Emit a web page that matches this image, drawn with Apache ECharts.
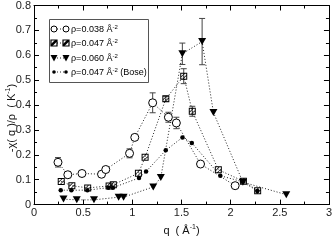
<!DOCTYPE html>
<html><head><meta charset="utf-8">
<script src="https://cdn.jsdelivr.net/npm/echarts@6/dist/echarts.min.js"></script>
<style>html,body{margin:0;padding:0;background:#fff}#c{width:335px;height:241px}</style>
</head><body><div id="c"></div>
<script>
// rho = 0.038 (open circles)
const circQ = [0.244, 0.344, 0.488, 0.687, 0.73, 0.972, 1.025, 1.207, 1.367, 1.448, 1.694, 2.046];
const circV = [0.170, 0.120, 0.125, 0.122, 0.141, 0.206, 0.270, 0.409, 0.351, 0.328, 0.163, 0.076];
const circE = [0.019, 0.012, 0, 0, 0, 0.018, 0, 0.040, 0.020, 0.023, 0, 0];
// rho = 0.047 (hatched squares)
const sqQ = [0.277, 0.385, 0.546, 0.764, 0.807, 1.062, 1.130, 1.341, 1.523, 1.610, 1.875, 2.130, 2.275];
const sqV = [0.093, 0.076, 0.067, 0.075, 0.080, 0.126, 0.190, 0.425, 0.516, 0.375, 0.140, 0.094, 0.056];
const sqE = [0, 0, 0, 0, 0, 0, 0, 0.010, 0.030, 0.020, 0, 0, 0];
// rho = 0.060 (filled down triangles)
const triQ = [0.300, 0.435, 0.610, 0.861, 0.911, 1.213, 1.290, 1.509, 1.710, 1.825, 2.125, 2.566];
const triV = [0.022, 0.019, 0.019, 0.030, 0.030, 0.071, 0.109, 0.606, 0.655, 0.370, 0.090, 0.040];
const triE = [0, 0, 0, 0, 0, 0, 0, 0.043, 0.093, 0, 0, 0];
// rho = 0.047 Bose (small dots)
const boseQ = [0.272, 0.380, 0.543, 0.757, 0.803, 1.068, 1.140, 1.340, 1.510, 1.605, 1.895, 2.120, 2.272];
const boseV = [0.058, 0.058, 0.058, 0.068, 0.068, 0.107, 0.133, 0.218, 0.270, 0.248, 0.116, 0.092, 0.055];

const xTicks = [0, 0.5, 1, 1.5, 2, 2.5, 3];
const yTicks = [0, 0.1, 0.2, 0.3, 0.4, 0.5, 0.6, 0.7, 0.8];
const legendNames = ['ρ=0.038 Å', 'ρ=0.047 Å', 'ρ=0.060 Å', 'ρ=0.047 Å'];
const legendSup = ['-2', '-2', '-2', '-2'];
const legendTail = ['', '', '', ' (Bose)'];

const FONT = '"Liberation Sans", Arial, Helvetica, sans-serif';
const HATCH = 'path://M0,0L10,0L10,10L0,10Z M1.4,1.4L1.4,8.6L8.6,8.6L8.6,1.4Z M1.4,5.2L5.2,1.4L6.6,1.4L1.4,6.6Z M3.4,8.6L8.6,3.4L8.6,4.8L4.8,8.6Z';
const LINE = {color: '#222', width: 1, type: [1, 2]};

function pairs(q, v) { return q.map((x, i) => [x, v[i]]); }
function errData(q, v, e) {
  const d = [];
  q.forEach((x, i) => { if (e[i] > 0) d.push([x, v[i] - e[i], v[i] + e[i]]); });
  return d;
}
function errSeries(q, v, e) {
  return {
    type: 'custom', z: 1, silent: true,
    data: errData(q, v, e),
    encode: {x: 0, y: [1, 2]},
    renderItem: function (params, api) {
      const lo = api.coord([api.value(0), api.value(1)]);
      const hi = api.coord([api.value(0), api.value(2)]);
      const w = 3, st = {stroke: '#444', lineWidth: 1};
      return {type: 'group', children: [
        {type: 'line', shape: {x1: lo[0], y1: lo[1], x2: hi[0], y2: hi[1]}, style: st},
        {type: 'line', shape: {x1: lo[0] - w, y1: lo[1], x2: lo[0] + w, y2: lo[1]}, style: st},
        {type: 'line', shape: {x1: hi[0] - w, y1: hi[1], x2: hi[0] + w, y2: hi[1]}, style: st}
      ]};
    }
  };
}
function lineSeries(name, q, v, symbol, size, item, rotate) {
  return {
    type: 'line', name: name, data: pairs(q, v), z: 3, silent: true,
    symbol: symbol, symbolSize: size, symbolRotate: rotate || 0, showAllSymbol: true,
    itemStyle: item, lineStyle: LINE, emphasis: {disabled: true}
  };
}

const chart = echarts.init(document.getElementById('c'), null, {renderer: 'canvas'});

const axisCommon = {
  type: 'value',
  axisLine: {show: true, onZero: false, lineStyle: {color: '#000', width: 1}},
  axisTick: {show: true, inside: true, length: 5, lineStyle: {color: '#000'}},
  minorTick: {show: true, splitNumber: 2, length: 3, lineStyle: {color: '#000'}},
  splitLine: {show: false},
  minorSplitLine: {show: false}
};

// legend graphics
const lg = [];
const rowY = [29, 43, 58, 72];
lg.push({type: 'rect', shape: {x: 49.5, y: 19.5, width: 99, height: 63}, style: {fill: '#fff', stroke: '#555', lineWidth: 1}, z: 10});
const mk = [
  (x, y) => [{type: 'circle', shape: {cx: x, cy: y, r: 3}, style: {fill: '#fff', stroke: '#000', lineWidth: 1}, z: 12}],
  (x, y) => [
    {type: 'rect', shape: {x: x - 3, y: y - 3, width: 6, height: 6}, style: {fill: '#fff', stroke: '#000', lineWidth: 1.2}, z: 12},
    {type: 'polygon', shape: {points: [[x - 3, y + 1], [x + 1, y - 3], [x + 3, y - 3], [x + 3, y - 1.5], [x - 1.5, y + 3], [x - 3, y + 3]]}, style: {fill: '#000'}, z: 13}
  ],
  (x, y) => [{type: 'polygon', shape: {points: [[x - 3.5, y - 3], [x + 3.5, y - 3], [x, y + 3.5]]}, style: {fill: '#000'}, z: 12}],
  (x, y) => [{type: 'circle', shape: {cx: x, cy: y, r: 1.8}, style: {fill: '#000'}, z: 12}]
];
for (let i = 0; i < 4; i++) {
  const y = rowY[i];
  lg.push({type: 'line', shape: {x1: 54, y1: y, x2: 66, y2: y}, style: {stroke: '#222', lineWidth: 1, lineDash: [1, 2]}, z: 11});
  mk[i](54, y).forEach(g => lg.push(g));
  mk[i](66, y).forEach(g => lg.push(g));
  lg.push({type: 'text', x: 71, y: y + 1, z: 12, style: {
    text: '{a|' + legendNames[i] + '}{s|' + legendSup[i] + '}{a|' + legendTail[i] + '}',
    verticalAlign: 'middle', align: 'left',
    rich: {
      a: {fontSize: 9, fontFamily: FONT, fill: '#000', lineHeight: 12},
      s: {fontSize: 6, fontFamily: FONT, fill: '#000', verticalAlign: 'top', lineHeight: 7}
    }
  }});
}
// y axis title
lg.push({type: 'text', x: 12, y: 118, rotation: Math.PI / 2, z: 12, style: {
  text: '{a|-χ( q )/ρ  ( K}{s|-1}{a|)}', align: 'center', verticalAlign: 'middle',
  rich: {
    a: {fontSize: 11, fontFamily: FONT, fill: '#111', lineHeight: 14},
    s: {fontSize: 7, fontFamily: FONT, fill: '#111', verticalAlign: 'top', lineHeight: 8}
  }
}});

chart.setOption({
  animation: false,
  backgroundColor: '#fff',
  grid: {left: 34, right: 3, top: 4, bottom: 29, containLabel: false},
  xAxis: [
    Object.assign({}, axisCommon, {
      position: 'bottom', min: 0, max: 3, interval: 0.5,
      axisLabel: {show: true, margin: 3, fontSize: 11, fontFamily: FONT, color: '#222',
        formatter: v => String(v)},
      name: '{a|q  ( Å}{s|-1}{a|)}', nameLocation: 'middle', nameGap: 17,
      nameTextStyle: {rich: {
        a: {fontSize: 11, fontFamily: FONT, color: '#111', lineHeight: 14},
        s: {fontSize: 7, fontFamily: FONT, color: '#111', verticalAlign: 'top', lineHeight: 8}
      }}
    }),
    Object.assign({}, axisCommon, {position: 'top', min: 0, max: 3, interval: 0.5, axisLabel: {show: false}})
  ],
  yAxis: [
    Object.assign({}, axisCommon, {
      position: 'left', min: 0, max: 0.8, interval: 0.1,
      axisLabel: {show: true, margin: 3, fontSize: 11, fontFamily: FONT, color: '#222',
        formatter: v => String(Math.round(v * 10) / 10)}
    }),
    Object.assign({}, axisCommon, {position: 'right', min: 0, max: 0.8, interval: 0.1, axisLabel: {show: false}})
  ],
  series: [
    errSeries(circQ, circV, circE),
    errSeries(sqQ, sqV, sqE),
    errSeries(triQ, triV, triE),
    lineSeries('bose', boseQ, boseV, 'circle', 4.5, {color: '#000'}),
    lineSeries('r060', triQ, triV, 'triangle', [8, 7], {color: '#000'}, 180),
    lineSeries('r047', sqQ, sqV, HATCH, 7, {color: '#000'}),
    lineSeries('r038', circQ, circV, 'circle', 8, {color: '#fff', borderColor: '#000', borderWidth: 1})
  ],
  graphic: lg
});
</script>
</body></html>
